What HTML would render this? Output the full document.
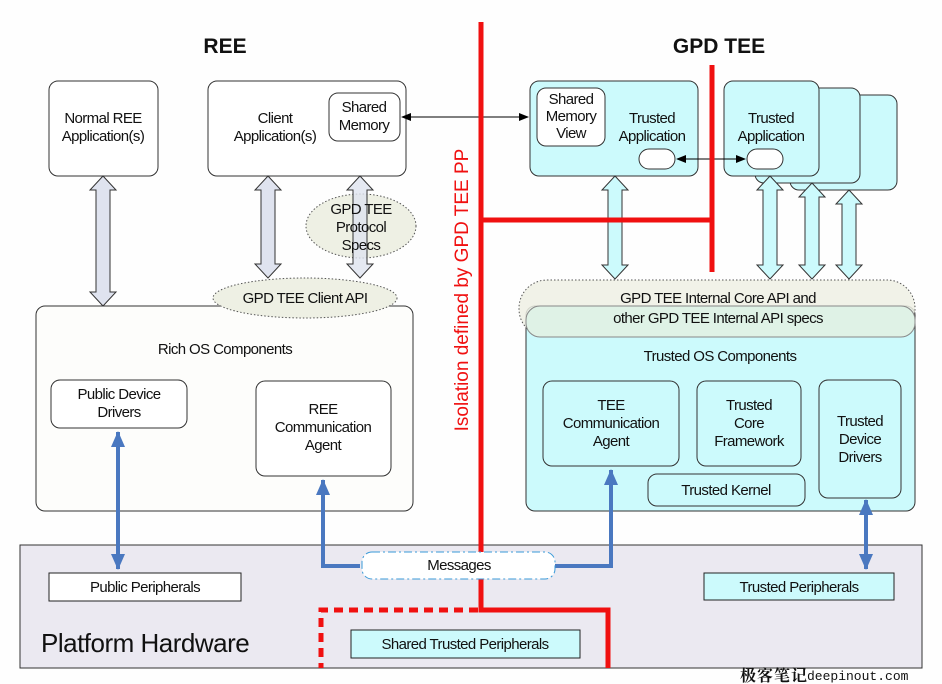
<!DOCTYPE html>
<html><head><meta charset="utf-8"><style>
html,body{margin:0;padding:0;background:#fff;}
svg{display:block;font-family:"Liberation Sans",Arial,sans-serif;}
text{font-size:15px;fill:#111;letter-spacing:-0.6px;}
</style></head><body>
<svg width="942" height="684" viewBox="0 0 942 684" xmlns="http://www.w3.org/2000/svg">
<defs>
<marker id="ab" markerWidth="10" markerHeight="8" refX="9" refY="4" orient="auto-start-reverse" markerUnits="userSpaceOnUse"><path d="M0,0 L10,4 L0,8 z" fill="#000"/></marker>
<marker id="bb" markerWidth="16" markerHeight="14" refX="15" refY="7" orient="auto-start-reverse" markerUnits="userSpaceOnUse"><path d="M0,0 L16,7 L0,14 z" fill="#4a78c0"/></marker>
</defs>
<rect width="942" height="684" fill="#fefefe"/>
<text x="225" y="53" text-anchor="middle" style="font-size:21px;font-weight:bold;letter-spacing:0">REE</text>
<text x="719" y="53" text-anchor="middle" style="font-size:21px;font-weight:bold;letter-spacing:0">GPD TEE</text>

<!-- platform hardware -->
<rect x="20" y="545" width="902" height="123" fill="#ebe9f1" stroke="#333" stroke-width="1"/>
<text x="41" y="652" style="font-size:26px;letter-spacing:-0.5px">Platform Hardware</text>
<rect x="49" y="573" width="192" height="28" fill="#fff" stroke="#222"/>
<text x="145" y="592" text-anchor="middle">Public Peripherals</text>
<rect x="704" y="573" width="190" height="27" fill="#ccfafc" stroke="#222"/>
<text x="799" y="592" text-anchor="middle">Trusted Peripherals</text>
<rect x="351" y="630" width="229" height="28" fill="#ccfafc" stroke="#222"/>
<text x="465" y="649" text-anchor="middle">Shared Trusted Peripherals</text>

<!-- top left boxes -->
<rect x="49" y="81" width="109" height="95" rx="9" fill="#fff" stroke="#333"/>
<text x="103" y="123" text-anchor="middle">Normal REE</text>
<text x="103" y="141" text-anchor="middle">Application(s)</text>
<rect x="208" y="81" width="198" height="95" rx="9" fill="#fff" stroke="#333"/>
<text x="275" y="123" text-anchor="middle">Client</text>
<text x="275" y="141" text-anchor="middle">Application(s)</text>
<rect x="329" y="93" width="71" height="48" rx="9" fill="#fff" stroke="#333"/>
<text x="364" y="112" text-anchor="middle">Shared</text>
<text x="364" y="130" text-anchor="middle">Memory</text>

<!-- grey double arrows -->
<g fill="#dfe3ef" stroke="#333" stroke-width="1">
<path d="M103,176 L116,190 L110,190 L110,292 L116,292 L103,306 L90,292 L96,292 L96,190 L90,190 Z"/>
<path d="M268,176 L281,190 L275,190 L275,264 L281,264 L268,278 L255,264 L261,264 L261,190 L255,190 Z"/>
</g>
<ellipse cx="361" cy="226" rx="55" ry="32" fill="#eef0e4" stroke="#555" stroke-dasharray="1.5,2"/>
<path d="M360,176 L373,190 L367,190 L367,264 L373,264 L360,278 L347,264 L353,264 L353,190 L347,190 Z" fill="#dfe3ef" fill-opacity="0.8" stroke="#333"/>
<text x="361" y="214" text-anchor="middle">GPD TEE</text>
<text x="361" y="232" text-anchor="middle">Protocol</text>
<text x="361" y="250" text-anchor="middle">Specs</text>

<!-- Rich OS -->
<rect x="36" y="306" width="377" height="205" rx="9" fill="#fdfdfb" stroke="#333"/>
<ellipse cx="305" cy="298" rx="92" ry="20" fill="#eef0e4" stroke="#555" stroke-dasharray="1.5,2"/>
<text x="305" y="303" text-anchor="middle">GPD TEE Client API</text>
<text x="225" y="354" text-anchor="middle">Rich OS Components</text>
<rect x="51" y="380" width="136" height="48" rx="9" fill="#fff" stroke="#333"/>
<text x="119" y="399" text-anchor="middle">Public Device</text>
<text x="119" y="417" text-anchor="middle">Drivers</text>
<rect x="256" y="381" width="135" height="95" rx="9" fill="#fff" stroke="#333"/>
<text x="323" y="414" text-anchor="middle">REE</text>
<text x="323" y="432" text-anchor="middle">Communication</text>
<text x="323" y="450" text-anchor="middle">Agent</text>

<!-- TEE side -->
<rect x="530" y="81" width="168" height="95" rx="9" fill="#ccfafc" stroke="#333"/>
<rect x="537" y="88" width="68" height="58" rx="9" fill="#fff" stroke="#333"/>
<text x="571" y="104" text-anchor="middle">Shared</text>
<text x="571" y="121" text-anchor="middle">Memory</text>
<text x="571" y="138" text-anchor="middle">View</text>
<text x="652" y="123" text-anchor="middle">Trusted</text>
<text x="652" y="141" text-anchor="middle">Application</text>
<rect x="639" y="149" width="36" height="20" rx="10" fill="#fff" stroke="#333"/>
<rect x="790" y="95" width="107" height="95" rx="9" fill="#ccfafc" stroke="#333"/>
<rect x="755" y="88" width="105" height="95" rx="9" fill="#ccfafc" stroke="#333"/>
<rect x="724" y="81" width="95" height="95" rx="9" fill="#ccfafc" stroke="#333"/>
<text x="771" y="123" text-anchor="middle">Trusted</text>
<text x="771" y="141" text-anchor="middle">Application</text>
<rect x="747" y="149" width="36" height="20" rx="10" fill="#fff" stroke="#333"/>

<line x1="402" y1="117" x2="528" y2="117" stroke="#000" stroke-width="1" marker-start="url(#ab)" marker-end="url(#ab)"/>
<line x1="677" y1="159" x2="745" y2="159" stroke="#000" stroke-width="1" marker-start="url(#ab)" marker-end="url(#ab)"/>

<g fill="#ccfafc" stroke="#333" stroke-width="1">
<path d="M615,176 L628,190 L622,190 L622,265 L628,265 L615,279 L602,265 L608,265 L608,190 L602,190 Z"/>
<path d="M770,176 L783,190 L777,190 L777,265 L783,265 L770,279 L757,265 L763,265 L763,190 L757,190 Z"/>
<path d="M812,183 L825,197 L819,197 L819,265 L825,265 L812,279 L799,265 L805,265 L805,197 L799,197 Z"/>
<path d="M849,190 L862,204 L856,204 L856,265 L862,265 L849,279 L836,265 L842,265 L842,204 L836,204 Z"/>
</g>

<!-- Trusted OS -->
<rect x="526" y="306" width="389" height="205" rx="9" fill="#ccfafc" stroke="#333"/>
<rect x="519" y="280" width="396" height="57" rx="28" fill="#eef0e4" fill-opacity="0.85" stroke="#555" stroke-dasharray="1.5,2"/>
<rect x="526" y="306" width="389" height="31" rx="14" fill="#dff2e6" stroke="#888"/>
<text x="718" y="303" text-anchor="middle">GPD TEE Internal Core API and</text>
<text x="718" y="323" text-anchor="middle">other GPD TEE Internal API specs</text>
<text x="720" y="361" text-anchor="middle">Trusted OS Components</text>
<rect x="543" y="381" width="136" height="85" rx="9" fill="#ccfafc" stroke="#333"/>
<text x="611" y="410" text-anchor="middle">TEE</text>
<text x="611" y="428" text-anchor="middle">Communication</text>
<text x="611" y="446" text-anchor="middle">Agent</text>
<rect x="697" y="381" width="104" height="85" rx="9" fill="#ccfafc" stroke="#333"/>
<text x="749" y="410" text-anchor="middle">Trusted</text>
<text x="749" y="428" text-anchor="middle">Core</text>
<text x="749" y="446" text-anchor="middle">Framework</text>
<rect x="648" y="474" width="157" height="32" rx="9" fill="#ccfafc" stroke="#333"/>
<text x="726" y="495" text-anchor="middle">Trusted Kernel</text>
<rect x="819" y="380" width="82" height="118" rx="9" fill="#ccfafc" stroke="#333"/>
<text x="860" y="426" text-anchor="middle">Trusted</text>
<text x="860" y="444" text-anchor="middle">Device</text>
<text x="860" y="462" text-anchor="middle">Drivers</text>

<!-- red isolation -->
<g stroke="#f01010" stroke-width="5" fill="none">
<path d="M481,22 L481,610 L608,610 L608,668"/>
<path d="M481,220 L712,220"/>
<path d="M712,65 L712,272"/>
<path d="M478,610 L321,610 L321,668" stroke-dasharray="9,6"/>
</g>
<text transform="translate(468,290) rotate(-90)" text-anchor="middle" style="font-size:19px;fill:#f01010;letter-spacing:0">Isolation defined by GPD TEE PP</text>

<!-- blue messages -->
<g stroke="#4a78c0" stroke-width="4" fill="none">
<path d="M323,480 L323,566 L360,566" marker-start="url(#bb)"/>
<path d="M550,566 L611,566 L611,470" marker-end="url(#bb)"/>
<path d="M118,432 L118,569" marker-start="url(#bb)" marker-end="url(#bb)"/>
<path d="M866,500 L866,569" marker-start="url(#bb)" marker-end="url(#bb)"/>
</g>
<rect x="362" y="552" width="193" height="27" rx="10" fill="#fff" stroke="#3a9ad8" stroke-dasharray="8,3,2,3"/>
<text x="459" y="570" text-anchor="middle">Messages</text>

<text x="740" y="681" style="font-family:'Noto Serif CJK SC',serif;font-size:16px;font-weight:bold;letter-spacing:1px">极客笔记</text>
<text x="807" y="680" style="font-family:'Liberation Mono',monospace;font-size:13px;letter-spacing:0">deepinout.com</text>
</svg>
</body></html>
